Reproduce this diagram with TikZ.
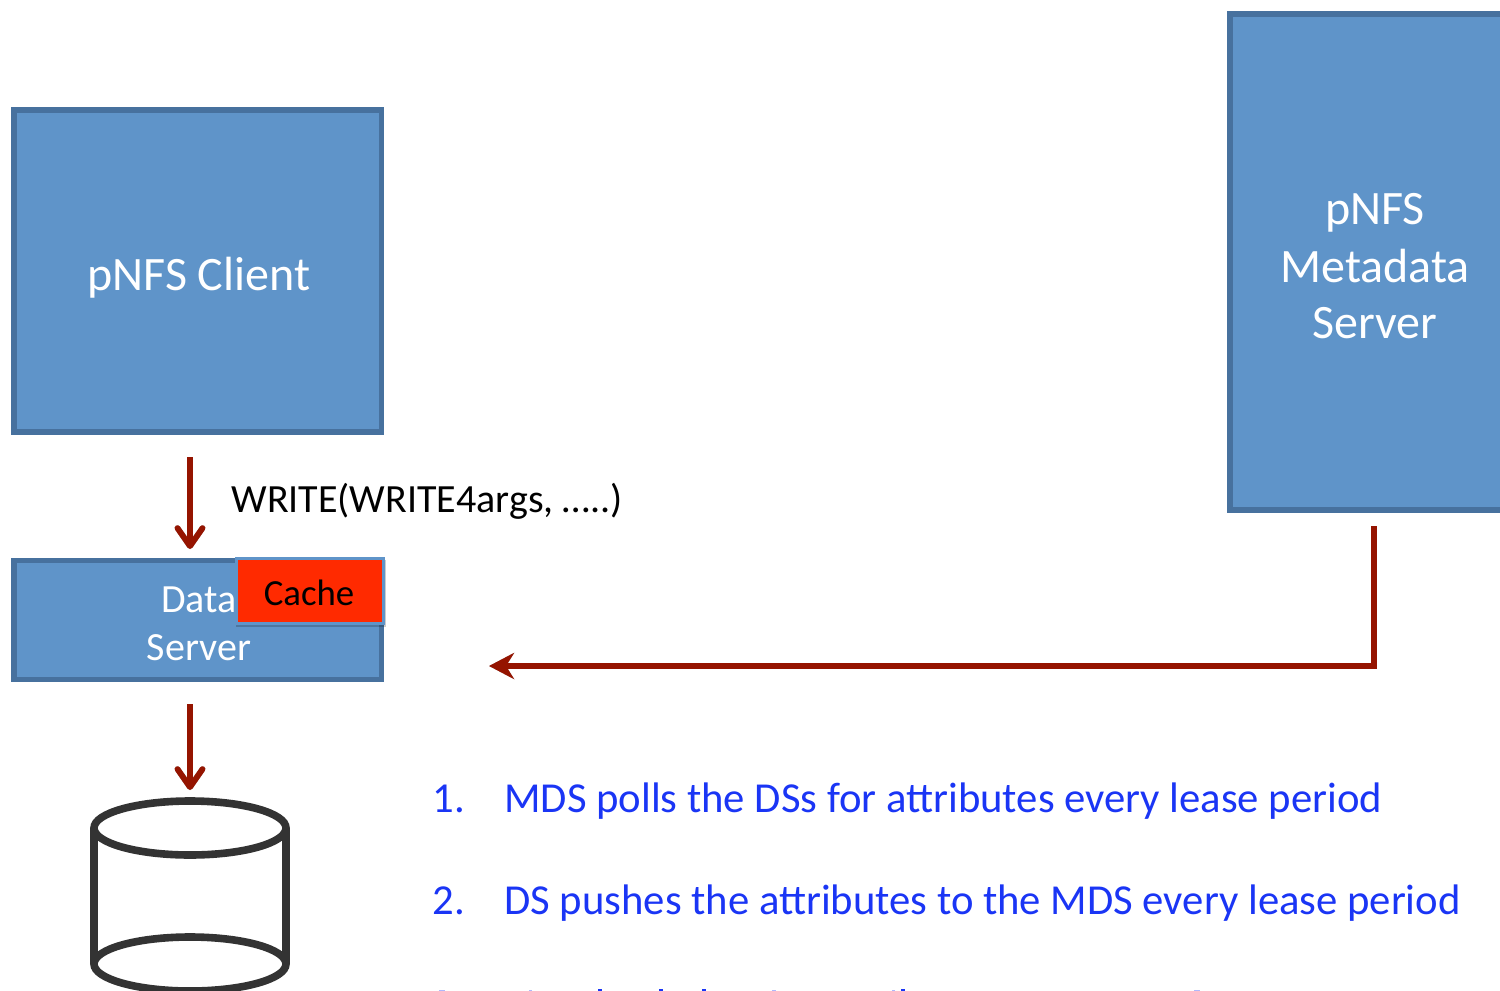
\documentclass[tikz,border=0pt]{standalone}
\usepackage{fontspec}
\setmainfont{Carlito}
\usetikzlibrary{arrows.meta}
\definecolor{boxfill}{HTML}{5F94C9}
\definecolor{boxline}{HTML}{47719E}
\definecolor{arrowred}{HTML}{951400}
\definecolor{cacheline}{HTML}{5F94C9}
\definecolor{cachefill}{HTML}{FF2A00}
\definecolor{listblue}{HTML}{1A35F5}
\definecolor{diskline}{HTML}{333333}
\tikzset{
  x=0.5pt,y=-0.5pt,
  bluebox/.style={draw=boxline,fill=boxfill,line width=2.8pt,inner sep=0pt,anchor=north west},
  cachebox/.style={draw=cacheline,fill=cachefill,line width=1.3pt,inner sep=0pt,anchor=north west},
  barbtip/.style={-{Straight Barb[length=9pt,width=12.5pt,line width=2.9pt,round]}},
  notchtip/.style={-{Stealth[length=12.5pt,width=13pt,inset=4pt]}},
  redarrow/.style={draw=arrowred,line width=2.9pt},
  shadowline/.style={draw=black,line width=3pt,opacity=.25},
  big/.style={inner sep=0pt,anchor=base,text=white,font=\fontsize{24pt}{29pt}\selectfont},
  small/.style={inner sep=0pt,anchor=base,text=white,font=\fontsize{20pt}{24pt}\selectfont},
  cachetext/.style={inner sep=0pt,anchor=base,text=black,font=\fontsize{18.4pt}{22pt}\selectfont},
  blacktext/.style={inner sep=0pt,anchor=base west,text=black,font=\fontsize{20pt}{24pt}\selectfont},
  listitem/.style={inner sep=0pt,anchor=base west,text=listblue,font=\fontsize{21.35pt}{25pt}\selectfont},
  disk/.style={draw=diskline,line width=3.8pt},
  clipped/.style={fill=listblue,draw=none}
}
\begin{document}
\begin{tikzpicture}
\useasboundingbox (0,0) rectangle (1500,991);
\clip (0,0) rectangle (1500,991);
% boxes
\node[bluebox,minimum width=183.8pt,minimum height=161pt] (client) at (11,107) {};
\node[bluebox,minimum width=183.8pt,minimum height=59.6pt] (ds) at (11,557.5) {};
\node[bluebox,minimum width=200pt,minimum height=248.2pt] (mds) at (1227,11) {};
\node[big] (clientlabel) at (199,290) {pNFS Client};
\node[big] (mdsa) at (1375,224.5) {pNFS};
\node[big] (mdsb) at (1375,282.5) {Metadata};
\node[big] (mdsc) at (1375,338.5) {Server};
\node[small] (dsa) at (199,612) {Data};
\node[small] (dsb) at (199,660) {Server};
\fill[black,opacity=.2] (236,560) rectangle (386,627);
\node[cachebox,minimum width=73.5pt,minimum height=32.5pt] (cache) at (235,557) {};
\node[cachetext] (cachelabel) at (309,605) {Cache};
\node[blacktext] (write) at (231,512.5) {WRITE(WRITE4args, …..)};
% connectors
\coordinate (a1s) at (190,457); \coordinate (a1e) at (190,549);
\coordinate (a2s) at (190,704); \coordinate (a2e) at (190,790);
\coordinate (a3s) at (1374,526); \coordinate (a3m) at (1374,666); \coordinate (a3e) at (489,666);
\begin{scope}[xshift=1.2pt,yshift=-1.6pt]
\draw[shadowline,barbtip] (a1s) -- (a1e);
\draw[shadowline,barbtip] (a2s) -- (a2e);
\draw[shadowline,notchtip] (a3s) -- (a3m) -- (a3e);
\end{scope}
\draw[redarrow,barbtip] (a1s) -- (a1e);
\draw[redarrow,barbtip] (a2s) -- (a2e);
\draw[redarrow,notchtip] (a3s) -- (a3m) -- (a3e);
% disk
\draw[disk] (94,828) -- (94,964);
\draw[disk] (286,828) -- (286,964);
\draw[disk] (190,828) ellipse [x radius=48pt,y radius=13.5pt];
\draw[disk] (190,964) ellipse [x radius=48pt,y radius=13.5pt];
% list
\node[listitem] (n1) at (432,812.5) {1.};
\node[listitem] (t1) at (504,812.5) {MDS polls the DSs for attributes every lease period};
\node[listitem] (n2) at (432,914.5) {2.};
\node[listitem] (t2) at (504,914.5) {DS pushes the attributes to the MDS every lease period};
% tops of the third list line, cut off by the edge of the picture
\fill[clipped] (598,989) rectangle (602,991);
\fill[clipped] (659,989) rectangle (663,991);
\fill[clipped] (702,989) rectangle (706,991);
\fill[clipped] (901,989) rectangle (905,991);
\fill[clipped,opacity=.35] (439,990) rectangle (445,991);
\fill[clipped,opacity=.35] (529,990) rectangle (532,991);
\fill[clipped,opacity=.35] (772,990) rectangle (776,991);
\fill[clipped,opacity=.35] (892,990) rectangle (895,991);
\fill[clipped,opacity=.35] (1194,990) rectangle (1200,991);
\end{tikzpicture}
\end{document}
